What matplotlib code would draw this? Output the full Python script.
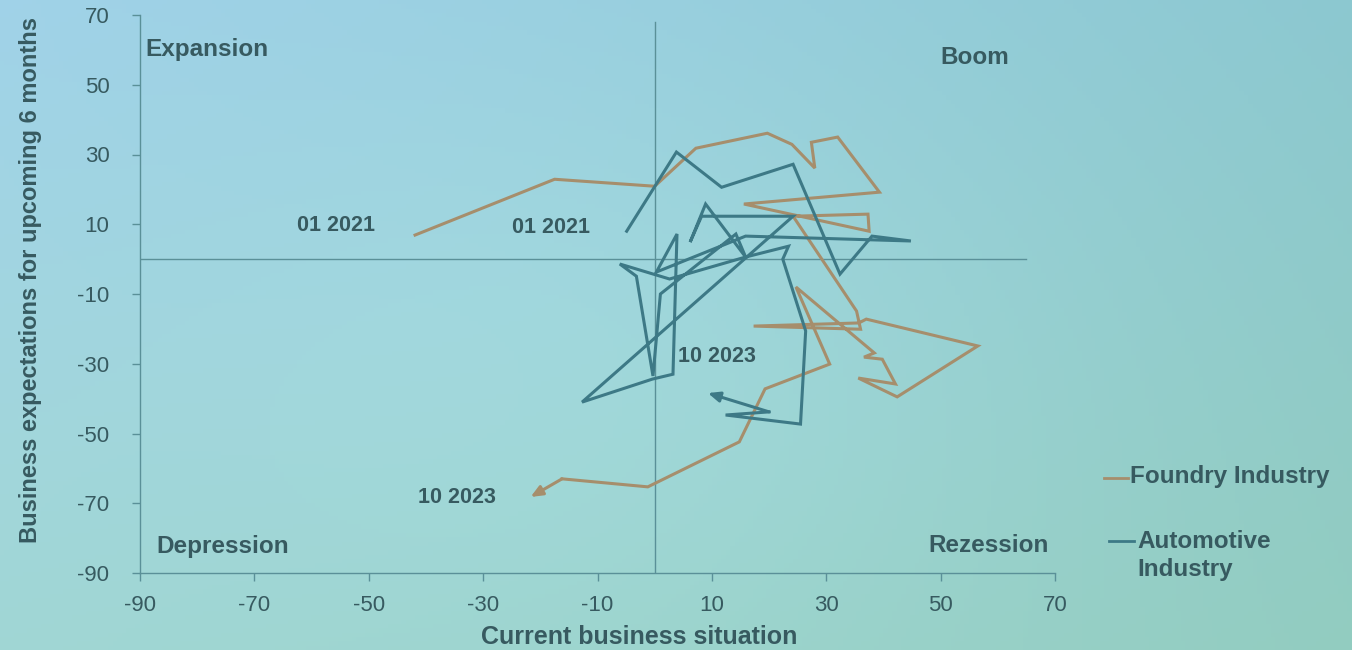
import numpy as np
import matplotlib
matplotlib.use("Agg")
import matplotlib.pyplot as plt
from matplotlib.lines import Line2D

plt.rcParams['font.family'] = ['Liberation Sans', 'DejaVu Sans']
plt.rcParams['axes.unicode_minus'] = False

# ---------------- data ----------------
foundry_x = [-41.9, -17.5, 0.0, 7.2, 19.7, 24.0, 28.0, 27.4, 32.0, 39.3, 15.6, 37.5,
             37.3, 24.2, 35.3, 36.0, 17.3, 35.7, 37.0, 56.5, 42.4, 35.6, 42.1, 39.8,
             36.6, 38.4, 24.7, 30.6, 19.3, 14.8, -1.2, -16.2, -21.7]
foundry_y = [6.9, 22.9, 20.9, 31.8, 36.1, 32.9, 26.1, 33.5, 35.0, 19.2, 15.8, 8.0,
             12.9, 12.3, -14.9, -20.1, -19.2, -18.3, -17.2, -24.9, -39.5, -34.1, -35.8, -28.7,
             -28.1, -26.9, -8.0, -30.1, -37.2, -52.4, -65.3, -63.0, -68.2]

auto_x = [-4.9, 3.8, 11.7, 24.2, 32.4, 38.0, 44.8, 15.9, 0.3, 3.9, 3.2, -0.4,
          -12.7, 24.2, 8.2, 6.2, 8.9, 15.9, 2.6, -6.1, -3.2, -0.3, 1.0, 14.2,
          15.9, 23.4, 22.4, 26.4, 25.5, 12.4, 20.0, 9.3]
auto_y = [8.0, 30.7, 20.6, 27.2, -4.3, 6.6, 5.2, 6.6, -3.7, 7.2, -33.0, -34.4,
          -41.0, 12.3, 12.3, 4.9, 15.8, 0.6, -5.7, -1.4, -4.9, -33.5, -10.0, 7.2,
          0.6, 3.7, 0.0, -20.6, -47.3, -44.7, -43.8, -38.4]

x_ticks = [-90, -70, -50, -30, -10, 10, 30, 50, 70]
y_ticks = [-90, -70, -50, -30, -10, 10, 30, 50, 70]

quadrants = ["Expansion", "Boom", "Depression", "Rezession"]
series_names = ["Foundry Industry", "Automotive\nIndustry"]
point_labels = ["01 2021", "01 2021", "10 2023", "10 2023"]

# ---------------- style ----------------
C_FOUNDRY = "#a68e6c"
C_AUTO = "#3d7986"
C_TEXT = "#375a60"
C_AXIS = "#5a9098"

W, H = 1352, 650
fig = plt.figure(figsize=(W / 100, H / 100), dpi=100)

# photographed-screen background gradient
bg = fig.add_axes([0, 0, 1, 1], zorder=-10)
bg.set_axis_off()
gx = np.linspace(0, 1, 300)
gy = np.linspace(0, 1, 150)
GX, GY = np.meshgrid(gx, gy)
tl = np.array([160, 210, 232]) / 255
tr = np.array([140, 200, 208]) / 255
bl = np.array([160, 214, 212]) / 255
br = np.array([146, 204, 192]) / 255
img = (tl[None, None, :] * ((1 - GX) * (1 - GY))[..., None]
       + tr[None, None, :] * (GX * (1 - GY))[..., None]
       + bl[None, None, :] * ((1 - GX) * GY)[..., None]
       + br[None, None, :] * (GX * GY)[..., None])
glow = np.exp(-(((GX - 0.45) / 0.35) ** 2 + ((GY - 0.55) / 0.5) ** 2))
img = np.clip(img + 0.03 * glow[..., None], 0, 1)
bg.imshow(img, aspect='auto', extent=[0, 1, 0, 1], origin='upper')

ax = fig.add_axes([140 / W, 1 - 573 / H, 915 / W, 558 / H])
ax.set_facecolor('none')
ax.set_xlim(-90, 70)
ax.set_ylim(-90, 70)

for s in ['top', 'right']:
    ax.spines[s].set_visible(False)
for s in ['left', 'bottom']:
    ax.spines[s].set_color(C_AXIS)
    ax.spines[s].set_linewidth(1.0)

ax.set_xticks(x_ticks)
ax.set_yticks(y_ticks)
ax.tick_params(axis='both', colors=C_AXIS, length=6, width=1, labelsize=16,
               labelcolor=C_TEXT, direction='out')
ax.tick_params(axis='y', pad=16)
ax.tick_params(axis='x', pad=10)

# quadrant divider lines
ax.plot([-90, 65], [0, 0], color=C_AXIS, lw=1.0, zorder=1)
ax.plot([0, 0], [-90, 68], color=C_AXIS, lw=1.0, zorder=1)

# series
ax.plot(foundry_x[:-1], foundry_y[:-1], color=C_FOUNDRY, lw=2.2, zorder=3,
        solid_joinstyle='miter')
ax.annotate("", xy=(foundry_x[-1], foundry_y[-1]), xytext=(foundry_x[-2], foundry_y[-2]),
            arrowprops=dict(arrowstyle="-|>,head_length=0.7,head_width=0.3",
                            color=C_FOUNDRY, lw=2.2, shrinkA=0, shrinkB=0), zorder=3)
ax.plot(auto_x[:-1], auto_y[:-1], color=C_AUTO, lw=2.2, zorder=4,
        solid_joinstyle='miter')
ax.annotate("", xy=(auto_x[-1], auto_y[-1]), xytext=(auto_x[-2], auto_y[-2]),
            arrowprops=dict(arrowstyle="-|>,head_length=0.7,head_width=0.3",
                            color=C_AUTO, lw=2.2, shrinkA=0, shrinkB=0), zorder=4)

# quadrant labels
qkw = dict(color=C_TEXT, fontsize=17.5, fontweight='bold')
ax.text(-89, 60, quadrants[0], ha='left', va='center', **qkw)
ax.text(55.9, 57.7, quadrants[1], ha='center', va='center', **qkw)
ax.text(-87.2, -82.5, quadrants[2], ha='left', va='center', **qkw)
ax.text(58.3, -82, quadrants[3], ha='center', va='center', **qkw)

# start / end labels
lkw = dict(color=C_TEXT, fontsize=15.5, fontweight='bold', ha='center', va='center')
ax.text(-55.8, 9.5, point_labels[0], **lkw)
ax.text(-18.2, 9.2, point_labels[1], **lkw)
ax.text(10.9, -28, point_labels[2], **lkw)
ax.text(-34.5, -68.3, point_labels[3], **lkw)

ax.set_xlabel("Current business situation", fontsize=18, fontweight='bold',
              color=C_TEXT)
ax.xaxis.set_label_coords(0.546, -0.093)
ax.set_ylabel("Business expectations for upcoming 6 months", fontsize=17,
              fontweight='bold', color=C_TEXT)
ax.yaxis.set_label_coords(-0.107, 0.525)

# legend (text with short dashes)
fig.add_artist(Line2D([1104 / W, 1128 / W], [1 - 478 / H, 1 - 478 / H],
                      color=C_FOUNDRY, lw=2.0))
fig.text(1130 / W, 1 - 477 / H, series_names[0], color=C_TEXT, fontsize=17.5,
         fontweight='bold', ha='left', va='center')
fig.add_artist(Line2D([1109 / W, 1134 / W], [1 - 541 / H, 1 - 541 / H],
                      color=C_AUTO, lw=2.0))
fig.text(1137 / W, 1 - 530 / H, series_names[1], color=C_TEXT, fontsize=17.5,
         fontweight='bold', ha='left', va='top', linespacing=1.3)

fig.savefig("out.png", dpi=100)
